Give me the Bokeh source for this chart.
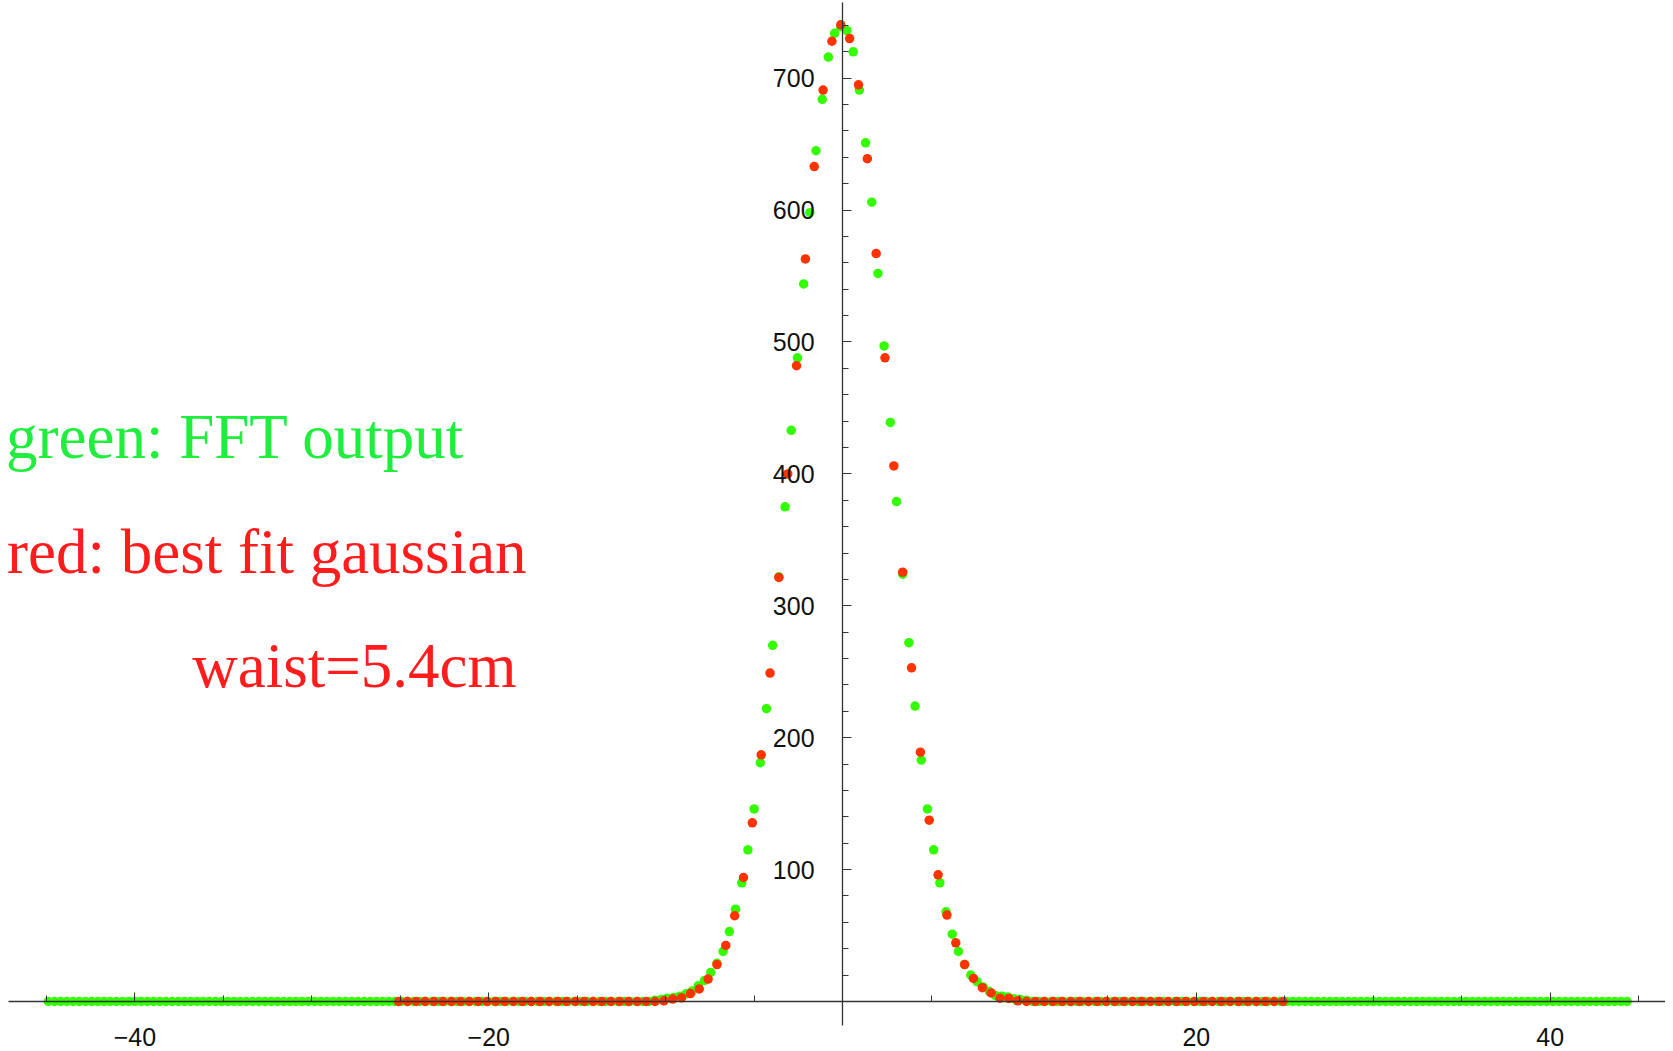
import numpy as np
from bokeh.plotting import figure
from bokeh.models import Range1d, FixedTicker, ColumnDataSource
from bokeh.core.properties import value
from bokeh.embed import file_html
from bokeh.resources import INLINE

# ---------------- data ----------------
# green: FFT output, 256 samples on a regular grid
green_x0 = -44.9
green_dx = 0.35
green_core = [1, 1.5, 2.5, 3, 4, 5.8, 8, 12, 16, 22,
              29, 38, 53, 70, 90, 115, 146, 181, 222, 270,
              322, 375, 433, 488, 544, 598, 645, 684, 716, 734,
              739,
              736, 720, 691, 651, 606, 552, 497, 439, 379, 324,
              272, 224, 183, 146, 115, 90, 68, 51, 38, 28,
              20, 15, 11, 7.5, 4.5, 4, 3.5, 2, 1.5, 1]
green_y = [0] * 98 + green_core + [0] * 97

# red: best fit gaussian, 101 samples on a regular grid
red_x0 = -25.1
red_dx = 0.5
red_core = [0.5, 1.8, 2.8, 6, 9.5, 17, 28, 42.5, 65, 94,
            135.5, 187, 249, 321.5, 400, 482, 563, 633, 691, 728,
            740.5,
            730, 695, 639, 567, 488, 406, 325.5, 253, 189, 137.5,
            96, 65.5, 44.5, 28, 17.5, 10.5, 6.5, 2.5, 2.3, 0.5]
red_y = [0] * 30 + red_core + [0] * 30

x_ticks = [-40, -20, 20, 40]
x_tick_labels = ["\u221240", "\u221220", "20", "40"]
x_minor_ticks = [-45, -40, -35, -30, -25, -20, -15, -10, -5, 5, 10, 15, 20, 25, 30, 35, 40, 45]
y_ticks = [100, 200, 300, 400, 500, 600, 700]
y_tick_labels = ["100", "200", "300", "400", "500", "600", "700"]
y_minor_ticks = [20, 40, 60, 80, 100, 120, 140, 160, 180, 200, 220, 240, 260, 280, 300,
                 320, 340, 360, 380, 400, 420, 440, 460, 480, 500, 520, 540, 560, 580,
                 600, 620, 640, 660, 680, 700, 720, 740]

notes = ["green: FFT output", "red: best fit gaussian", "waist=5.4cm"]

# ---------------- figure ----------------
green_x = green_x0 + green_dx * np.arange(len(green_y))
red_x = red_x0 + red_dx * np.arange(len(red_y))

p = figure(width=1665, height=1050, output_backend="svg", toolbar_location=None,
           x_range=Range1d(-47.60, 46.52), y_range=Range1d(-37.15, 758.9),
           min_border_left=0, min_border_right=0, min_border_top=0, min_border_bottom=0)
p.outline_line_color = None
p.grid.visible = False
p.background_fill_color = "white"
p.border_fill_color = "white"

xa = p.xaxis[0]
ya = p.yaxis[0]
xa.fixed_location = 0
ya.fixed_location = 0
xa.bounds = (-47.15, 46.52)
ya.bounds = (-18.2, 757.5)
xa.ticker = FixedTicker(ticks=x_ticks, minor_ticks=x_minor_ticks)
ya.ticker = FixedTicker(ticks=y_ticks, minor_ticks=y_minor_ticks)
xa.major_label_overrides = {t: s for t, s in zip(x_ticks, x_tick_labels)}
ya.major_label_overrides = {t: s for t, s in zip(y_ticks, y_tick_labels)}
for ax in (xa, ya):
    ax.axis_line_color = "#333333"
    ax.axis_line_width = 1.3
    ax.major_tick_line_color = "#333333"
    ax.minor_tick_line_color = "#333333"
    ax.major_tick_in = 9
    ax.major_tick_out = 0
    ax.minor_tick_in = 6
    ax.minor_tick_out = 0
    ax.major_label_text_font = "Liberation Sans"
    ax.major_label_text_font_size = "25px"
    ax.major_label_text_color = "#111111"
xa.major_label_standoff = 27
ya.major_label_standoff = 28

p.scatter(green_x, green_y, size=9.5, fill_color="#33FF00", line_color=None)
p.scatter(red_x, red_y, size=9.5, fill_color="#FF3300", line_color=None)

p.text(x=[-21.37], y=[428.2], text=[notes[0]], text_align="right", text_baseline="alphabetic",
       text_font=value("Liberation Serif"), text_font_size=value("63px"), text_color="#1FEE3C")
src = ColumnDataSource(dict(x=[-17.86, -18.43], y=[341.0, 254.7], t=[notes[1], notes[2]]))
p.text(x="x", y="y", text="t", source=src, text_align="right", text_baseline="alphabetic",
       text_font=value("Liberation Serif"), text_font_size=value("63px"), text_color="#FF1C1C")

open("out.html", "w").write(file_html(p, INLINE))
